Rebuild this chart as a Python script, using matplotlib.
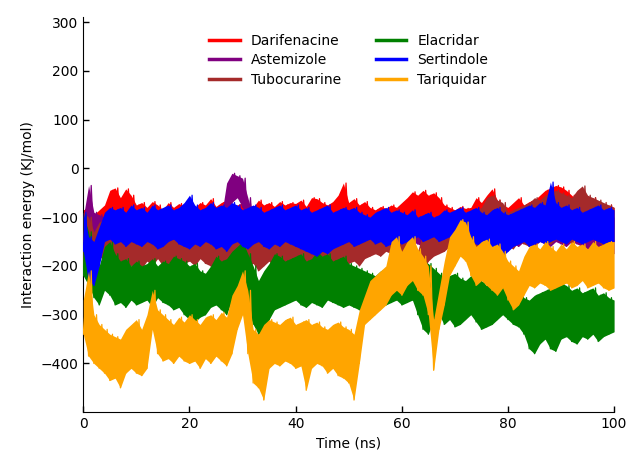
import numpy as np
import matplotlib as mpl
mpl.use("Agg")
import matplotlib.pyplot as plt

mpl.rcParams.update({
    "font.family": "DejaVu Sans", "font.size": 10,
    "xtick.direction": "in", "ytick.direction": "in",
    "axes.spines.top": False, "axes.spines.right": False,
})

# time axis in ns, one low/high reading of each noisy trace per ns
TIME = np.arange(0, 101)
NAMES = ["Darifenacine", "Astemizole", "Tubocurarine", "Elacridar", "Sertindole", "Tariquidar"]
COLORS = ["red", "purple", "brown", "green", "blue", "orange"]

dari_hi = [-85, -80, -95, -85, -75, -45, -40, -60, -42, -55,
           -75, -70, -80, -68, -75, -85, -70, -80, -72, -78,
           -65, -80, -70, -75, -62, -78, -70, -65, -80, -75,
           -70, -72, -80, -65, -75, -70, -78, -68, -75, -70,
           -72, -65, -78, -60, -62, -70, -75, -68, -55, -30,
           -70, -62, -75, -68, -80, -85, -78, -82, -75, -80,
           -70, -60, -48, -55, -45, -55, -50, -60, -75, -80,
           -85, -78, -82, -80, -60, -70, -55, -42, -65, -75,
           -80, -70, -60, -75, -68, -65, -55, -45, -40, -35,
           -38, -45, -55, -65, -70, -75, -60, -70, -80, -75, -80]
dari_lo = [-110, -170, -160, -130, -120, -110, -115, -120, -110, -125,
           -130, -120, -125, -135, -120, -130, -125, -120, -135, -130,
           -125, -130, -120, -130, -125, -135, -130, -120, -125, -130,
           -120, -125, -135, -130, -120, -125, -130, -135, -125, -120,
           -130, -125, -120, -135, -130, -125, -120, -130, -125, -135,
           -130, -120, -125, -130, -135, -125, -120, -130, -125, -120,
           -125, -120, -115, -120, -110, -115, -120, -125, -130, -120,
           -125, -130, -120, -125, -130, -120, -115, -110, -120, -125,
           -130, -125, -120, -125, -130, -120, -115, -110, -105, -110,
           -115, -120, -125, -120, -115, -125, -120, -125, -130, -120, -125]

aste_hi = [-100, -35, -90, -95, -100, -105, -100, -110, -95, -100,
           -105, -100, -110, -105, -100, -110, -105, -100, -110, -105,
           -100, -110, -105, -100, -110, -105, -100, -30, -10, -15,
           -20, -60, -100, -105, -110, -100, -105, -110, -100, -105,
           -110, -100, -105, -110, -100, -105, -110, -100, -105, -110,
           -105, -100, -110, -105, -100, -110, -105, -100, -110, -105,
           -100, -110, -105, -100, -110, -105, -100, -110, -105, -100,
           -110, -105, -100, -110, -105, -100, -110, -105, -100, -95,
           -100, -105, -100, -95, -100, -90, -95, -85, -40, -90,
           -95, -100, -95, -90, -100, -95, -100, -105, -100, -95, -100]
aste_lo = [-150, -160, -155, -160, -150, -155, -160, -150, -155, -160,
           -150, -155, -160, -150, -155, -160, -150, -155, -160, -150,
           -155, -160, -150, -165, -180, -200, -210, -120, -70, -60,
           -80, -130, -150, -155, -160, -150, -155, -160, -150, -155,
           -160, -150, -155, -160, -150, -155, -160, -150, -155, -160,
           -150, -155, -160, -150, -155, -160, -150, -155, -160, -150,
           -155, -160, -150, -155, -160, -150, -155, -160, -150, -155,
           -160, -150, -155, -160, -150, -155, -160, -150, -155, -160,
           -150, -155, -160, -150, -155, -160, -150, -155, -160, -150,
           -155, -160, -150, -155, -160, -165, -170, -175, -180, -170, -175]

tubo_hi = [-90, -100, -130, -110, -105, -100, -110, -105, -100, -110,
           -105, -100, -110, -105, -100, -110, -105, -100, -110, -105,
           -100, -110, -105, -100, -110, -105, -100, -110, -105, -100,
           -110, -105, -100, -110, -105, -100, -110, -105, -100, -110,
           -105, -100, -110, -105, -100, -110, -105, -100, -110, -105,
           -100, -110, -105, -100, -110, -105, -100, -110, -105, -100,
           -110, -150, -190, -170, -130, -110, -105, -100, -110, -105,
           -100, -95, -100, -90, -85, -80, -60, -55, -65, -70,
           -90, -85, -80, -75, -70, -60, -65, -55, -50, -45,
           -50, -55, -60, -45, -36, -55, -60, -65, -70, -75, -80]
tubo_lo = [-200, -190, -170, -180, -190, -200, -195, -205, -190, -200,
           -195, -205, -190, -200, -185, -200, -195, -190, -205, -195,
           -190, -200, -185, -195, -200, -210, -205, -195, -190, -200,
           -205, -200, -195, -210, -200, -190, -205, -200, -195, -205,
           -200, -190, -195, -205, -200, -195, -190, -200, -195, -190,
           -195, -190, -200, -185, -180, -175, -180, -170, -175, -185,
           -200, -230, -255, -240, -210, -190, -180, -175, -170, -160,
           -155, -160, -150, -165, -160, -170, -145, -150, -160, -155,
           -160, -165, -150, -155, -160, -150, -145, -150, -155, -145,
           -150, -145, -155, -140, -150, -145, -140, -150, -160, -155, -150]

elac_hi = [-95, -130, -190, -200, -160, -150, -175, -190, -185, -200,
           -190, -200, -195, -185, -200, -190, -195, -180, -185, -190,
           -200, -195, -210, -215, -200, -180, -190, -185, -170, -160,
           -150, -175, -200, -230, -210, -195, -175, -180, -190, -185,
           -180, -175, -190, -185, -170, -180, -175, -190, -185, -180,
           -195, -200, -205, -210, -215, -220, -210, -205, -200, -195,
           -200, -215, -210, -200, -190, -195, -205, -215, -225, -220,
           -215, -225, -230, -220, -225, -230, -240, -235, -225, -230,
           -240, -235, -245, -265, -270, -260, -255, -250, -245, -240,
           -235, -240, -250, -245, -255, -250, -245, -260, -255, -265, -270]
elac_lo = [-220, -240, -265, -280, -250, -260, -280, -275, -285, -270,
           -280, -275, -270, -285, -265, -275, -280, -290, -285, -300,
           -310, -315, -305, -300, -285, -280, -290, -300, -270, -250,
           -260, -290, -320, -340, -330, -310, -290, -285, -280, -275,
           -270, -280, -285, -275, -280, -285, -270, -275, -280, -285,
           -280, -285, -290, -285, -280, -290, -285, -280, -275, -270,
           -280, -275, -270, -300, -330, -340, -310, -300, -320, -310,
           -325, -320, -310, -300, -315, -330, -325, -320, -310, -300,
           -310, -320, -325, -340, -370, -380, -360, -350, -370, -375,
           -350, -345, -355, -360, -345, -350, -340, -355, -345, -340, -335]

sert_hi = [-90, -140, -150, -120, -90, -80, -85, -80, -90, -75,
           -85, -80, -90, -75, -85, -80, -75, -85, -80, -70,
           -55, -75, -85, -80, -70, -80, -75, -80, -70, -75,
           -85, -80, -75, -80, -90, -85, -80, -75, -85, -80,
           -75, -85, -80, -90, -85, -80, -75, -90, -85, -80,
           -85, -80, -90, -95, -100, -90, -85, -80, -90, -85,
           -90, -95, -85, -100, -95, -90, -100, -95, -85, -90,
           -85, -80, -90, -85, -80, -90, -95, -85, -80, -90,
           -95, -90, -85, -80, -75, -80, -70, -75, -28, -70,
           -80, -75, -85, -80, -90, -85, -80, -75, -85, -80, -85]
sert_lo = [-170, -230, -240, -200, -150, -145, -155, -150, -160, -150,
           -155, -160, -150, -155, -165, -160, -150, -145, -155, -160,
           -165, -155, -160, -150, -155, -165, -160, -170, -155, -150,
           -160, -165, -155, -150, -160, -165, -155, -160, -150, -155,
           -160, -165, -170, -175, -180, -170, -175, -165, -160, -155,
           -150, -160, -155, -150, -145, -155, -150, -160, -155, -150,
           -155, -150, -145, -140, -150, -145, -140, -150, -145, -140,
           -145, -140, -150, -145, -155, -160, -150, -165, -175, -180,
           -170, -160, -155, -150, -160, -155, -150, -155, -150, -145,
           -150, -155, -145, -150, -155, -150, -145, -150, -155, -150, -150]

tari_hi = [-270, -210, -300, -320, -330, -340, -345, -350, -330, -320,
           -310, -330, -300, -250, -290, -300, -310, -320, -305, -315,
           -300, -310, -320, -305, -300, -310, -295, -305, -260, -240,
           -210, -250, -330, -340, -320, -310, -315, -320, -310, -305,
           -320, -315, -310, -320, -315, -325, -330, -320, -315, -325,
           -330, -340, -290, -260, -230, -220, -210, -200, -150, -140,
           -170, -150, -140, -165, -180, -200, -310, -250, -190, -140,
           -125, -105, -110, -140, -160, -150, -145, -160, -155, -170,
           -190, -200, -210, -180, -160, -155, -165, -150, -160, -170,
           -155, -165, -150, -160, -155, -165, -150, -160, -155, -150, -150]
tari_lo = [-340, -385, -400, -410, -420, -435, -430, -450, -420, -410,
           -420, -425, -410, -330, -380, -395, -390, -400, -385, -395,
           -400, -395, -410, -390, -400, -385, -395, -405, -380, -330,
           -300, -380, -440, -450, -475, -410, -400, -405, -395, -400,
           -410, -405, -455, -410, -400, -405, -420, -410, -425, -430,
           -440, -475, -400, -320, -310, -300, -290, -280, -260, -250,
           -260, -240, -230, -250, -260, -300, -414, -330, -280, -220,
           -200, -180, -190, -220, -240, -230, -240, -250, -260, -245,
           -270, -290, -280, -260, -240, -245, -235, -240, -250, -245,
           -240, -235, -245, -240, -230, -245, -240, -235, -245, -250, -245]

SERIES = [(dari_lo, dari_hi), (aste_lo, aste_hi), (tubo_lo, tubo_hi),
          (elac_lo, elac_hi), (sert_lo, sert_hi), (tari_lo, tari_hi)]


def trace(lo, hi):
    # alternate the low and high reading inside each ns to get the noisy edge
    t = np.column_stack([TIME, TIME + 0.5]).ravel()
    v = np.column_stack([lo, hi]).ravel()
    return t, v


fig, ax = plt.subplots(figsize=(6.26, 4.53), dpi=100)
fig.subplots_adjust(left=0.133, right=0.981, bottom=0.09, top=0.962)
for i, (name, col, (lo, hi)) in enumerate(zip(NAMES, COLORS, SERIES)):
    # the dense trace reads as a solid band between its low and high readings
    ax.fill_between(TIME, lo, hi, color=col, lw=0, zorder=2 + i)
    t, v = trace(lo, hi)
    ax.plot(t, v, color=col, lw=0.9, label=name, zorder=2 + i)

ax.set_xlim(0, 100)
ax.set_ylim(-500, 310)
ax.set_xticks([0, 20, 40, 60, 80, 100])
ax.set_yticks([-400, -300, -200, -100, 0, 100, 200, 300])
ax.tick_params(length=4, width=1)
ax.set_xlabel("Time (ns)")
ax.set_ylabel("Interaction energy (KJ/mol)")
leg = ax.legend(loc="upper center", bbox_to_anchor=(0.5, 0.99), ncol=2, frameon=False,
                handlelength=2.2, columnspacing=2.5, labelspacing=0.4)
for h in leg.get_lines():
    h.set_linewidth(2.5)
fig.savefig("out.png", dpi=100)
